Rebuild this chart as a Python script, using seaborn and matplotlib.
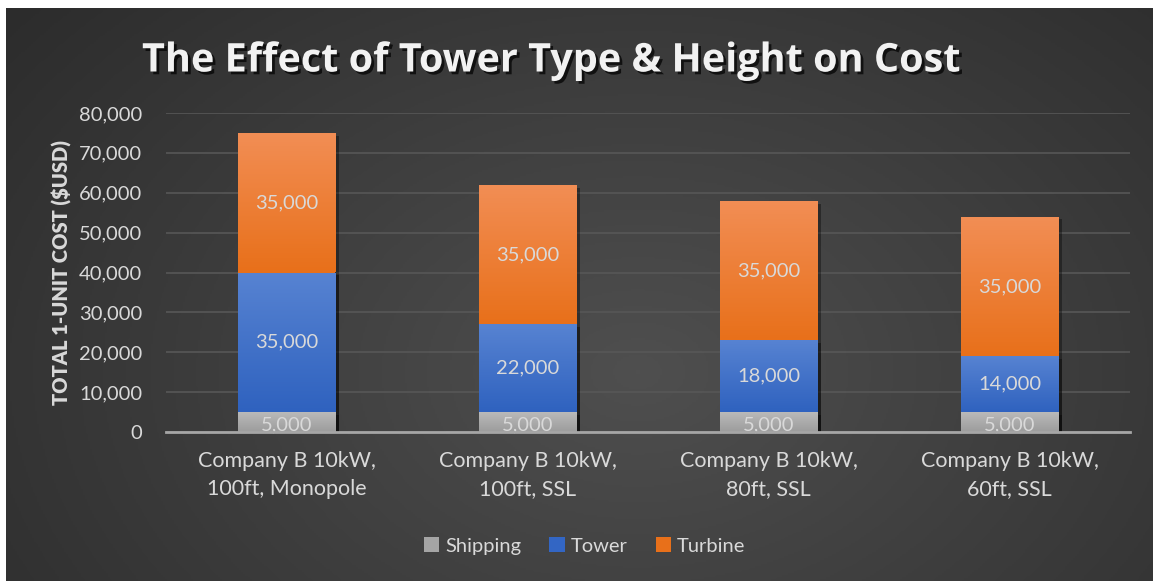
import numpy as np
import pandas as pd
import matplotlib
matplotlib.use("Agg")
import matplotlib.pyplot as plt
import matplotlib.patheffects as pe
from matplotlib.colors import LinearSegmentedColormap
from matplotlib.patches import Patch
import seaborn as sns

# ---- data ----
categories = ["Company B 10kW,\n100ft, Monopole", "Company B 10kW,\n100ft, SSL",
              "Company B 10kW,\n80ft, SSL", "Company B 10kW,\n60ft, SSL"]
shipping = [5000, 5000, 5000, 5000]
tower = [35000, 22000, 18000, 14000]
turbine = [35000, 35000, 35000, 35000]
series_names = ["Shipping", "Tower", "Turbine"]
y_ticks = [0, 10000, 20000, 30000, 40000, 50000, 60000, 70000, 80000]

title = "The Effect of Tower Type & Height on Cost"
ylabel = "TOTAL 1-UNIT COST ($USD)"

# ---- style ----
sns.set_theme(style="dark")
plt.rcParams["font.family"] = ["Lato", "DejaVu Sans"]
txt = "#d9d9d9"

W, H = 1153, 581
fig = plt.figure(figsize=(W / 100, H / 100), dpi=100, facecolor="white")

# background with radial gradient
bg = fig.add_axes([6 / W, 0, 1 - 6 / W, 1 - 8 / H], zorder=-10)
yy, xx = np.mgrid[0:300, 0:600]
cx, cy = 330, 190
d = np.sqrt(((xx - cx) / 600) ** 2 + ((yy - cy) / 420) ** 2)
d = np.clip(d / 0.75, 0, 1)
bgcmap = LinearSegmentedColormap.from_list("bg", ["#4f4f4f", "#2a2a2a"])
bg.imshow(d, cmap=bgcmap, aspect="auto", extent=(0, 1, 0, 1), origin="upper",
          vmin=0, vmax=1)
bg.set_axis_off()

ax = fig.add_axes([166 / W, 1 - 432 / H, (1130 - 166) / W, (432 - 113) / H])
ax.set_facecolor("none")

df = pd.DataFrame({"cat": categories, "Shipping": shipping,
                   "Tower": tower, "Turbine": turbine})
df["c_ship"] = df["Shipping"]
df["c_tower"] = df["Shipping"] + df["Tower"]
df["c_turb"] = df["c_tower"] + df["Turbine"]

layers = [
    ("c_turb", "c_tower", "Turbine", "#E8701A", "#F28E55", 2),
    ("c_tower", "c_ship", "Tower", "#2F62BF", "#5783D2", 3),
    ("c_ship", None, "Shipping", "#9C9C9C", "#BABABA", 4),
]

bar_w = 0.405
for col, lowcol, name, c_bot, c_top, z in layers:
    n_before = len(ax.patches)
    sns.barplot(data=df, x="cat", y=col, color=c_bot, width=bar_w, ax=ax,
                saturation=1, zorder=z, linewidth=0)
    new_patches = ax.patches[n_before:]
    cmap = LinearSegmentedColormap.from_list(name, [c_bot, c_top])
    grad = np.linspace(0, 1, 256).reshape(-1, 1)
    for i, p in enumerate(new_patches):
        p.set_zorder(z)
        p.set_path_effects([pe.SimplePatchShadow(offset=(3, -2), shadow_rgbFace="black", alpha=0.35),
                            pe.Normal()])
        lo = df[lowcol].iloc[i] if lowcol else 0
        hi = df[col].iloc[i]
        x0 = p.get_x()
        im = ax.imshow(grad, cmap=cmap, origin="lower", aspect="auto",
                       extent=(x0, x0 + p.get_width(), lo, hi), zorder=z + 0.1)
        im.set_clip_path(p)
        val = hi - lo
        yc = (lo + hi) / 2 - (700 if lowcol is None else 0)
        ax.text(x0 + p.get_width() / 2, yc, f"{val:,.0f}",
                ha="center", va="center", color=txt, fontsize=14.5, zorder=6)

ax.set_xlim(-0.5, len(categories) - 0.5)
ax.set_ylim(0, 80000)
ax.set_yticks(y_ticks)
ax.set_yticklabels([f"{v:,}" for v in y_ticks])
ax.yaxis.grid(True, color="#575757", linewidth=1.2)
ax.xaxis.grid(False)
ax.set_axisbelow(True)
for s in ["top", "right", "left"]:
    ax.spines[s].set_visible(False)
ax.spines["bottom"].set_color("#a6a6a6")
ax.spines["bottom"].set_linewidth(2)
ax.spines["bottom"].set_zorder(7)
ax.tick_params(axis="y", colors=txt, labelsize=14.5, length=0, pad=17)
ax.tick_params(axis="x", colors=txt, labelsize=15.5, length=0, pad=14)
for t in ax.get_yticklabels():
    t.set_color(txt)
for t in ax.get_xticklabels():
    t.set_color(txt)
    t.set_linespacing(1.45)
ax.set_xlabel("")
ax.set_ylabel(ylabel, color=txt, fontsize=14.5, fontweight="heavy", labelpad=8)
ax.yaxis.set_label_coords(-0.098, 0.5)

fig.text(0.478, 1 - 61 / H, title, ha="center", va="center", color="#f2f2f2",
         fontsize=28.5, fontweight="bold", family=["Open Sans", "DejaVu Sans"],
         path_effects=[pe.withSimplePatchShadow(offset=(2, -2), shadow_rgbFace="black", alpha=0.7)])

handles = [Patch(facecolor=c, edgecolor="none") for c in ["#A5A5A5", "#3366C4", "#E8701A"]]
leg = fig.legend(handles, series_names, loc="center", bbox_to_anchor=(0.507, 1 - 546 / H),
                 ncol=3, frameon=False, fontsize=14.5, handlelength=0.75, handleheight=0.75,
                 handletextpad=0.3, columnspacing=1.4, labelcolor=txt)

fig.savefig("out.png", dpi=100, facecolor="white")
